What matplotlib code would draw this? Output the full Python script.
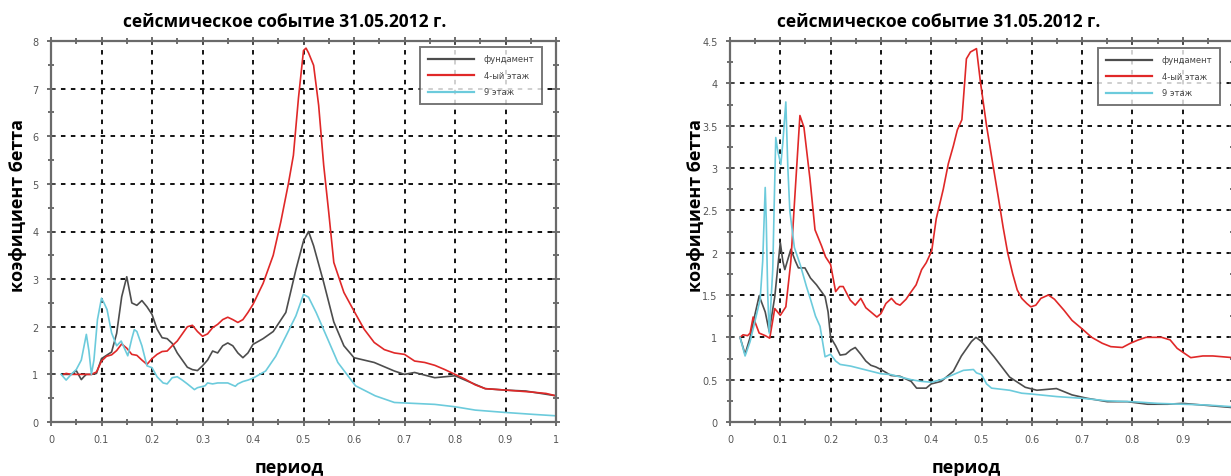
import matplotlib
matplotlib.use('Agg')
import matplotlib.pyplot as plt
import numpy as np

# ---- левый график (x: период, y: коэффициент бетта) ----
L_fund_x = [0.025, 0.03, 0.04, 0.05, 0.06, 0.065, 0.07, 0.08, 0.09, 0.1, 0.11, 0.12, 0.13, 0.14,
            0.15, 0.16, 0.17, 0.18, 0.19, 0.2, 0.21, 0.22, 0.23, 0.24, 0.25, 0.26, 0.27, 0.28,
            0.29, 0.3, 0.31, 0.32, 0.33, 0.34, 0.35, 0.36, 0.37, 0.38, 0.39, 0.4, 0.42, 0.44,
            0.465, 0.485, 0.5, 0.51, 0.52, 0.54, 0.56, 0.58, 0.6, 0.64, 0.68, 0.7, 0.72, 0.76,
            0.8, 0.84, 0.86, 0.9, 0.94, 1.0]
L_fund_y = [1.0, 1.0, 1.0, 1.08, 0.89, 0.95, 1.0, 1.0, 1.02, 1.33, 1.4, 1.47, 1.86, 2.63,
            3.05, 2.5, 2.45, 2.55, 2.42, 2.26, 1.95, 1.77, 1.75, 1.65, 1.45, 1.3, 1.15, 1.1,
            1.08, 1.18, 1.3, 1.49, 1.45, 1.6, 1.66, 1.6, 1.45, 1.35, 1.45, 1.63, 1.75, 1.9,
            2.3, 3.2, 3.8, 4.0, 3.7, 2.93, 2.1, 1.6, 1.35, 1.25, 1.07, 1.0, 1.04, 0.93,
            0.97, 0.79, 0.7, 0.67, 0.65, 0.55]

L_fl4_x = [0.025, 0.03, 0.04, 0.05, 0.06, 0.07, 0.08, 0.09, 0.1, 0.11, 0.12, 0.13, 0.14, 0.15,
           0.16, 0.17, 0.18, 0.19, 0.2, 0.21, 0.22, 0.23, 0.24, 0.25, 0.26, 0.27, 0.28, 0.29,
           0.3, 0.31, 0.32, 0.33, 0.34, 0.35, 0.36, 0.37, 0.38, 0.39, 0.4, 0.42, 0.44, 0.455,
           0.47, 0.48, 0.49, 0.5, 0.505, 0.51, 0.52, 0.53, 0.54, 0.55, 0.56, 0.58, 0.6, 0.62,
           0.64, 0.66, 0.68, 0.7, 0.72, 0.74, 0.76, 0.78, 0.8, 0.82, 0.84, 0.86, 0.9, 0.95,
           0.98, 1.0]
L_fl4_y = [1.0, 1.02, 1.0, 1.0, 1.0, 1.0, 1.0, 1.05, 1.28, 1.38, 1.41, 1.5, 1.64, 1.55,
           1.42, 1.4, 1.3, 1.21, 1.33, 1.42, 1.48, 1.49, 1.6, 1.7, 1.85, 2.0, 2.03, 1.9,
           1.8, 1.85, 1.98, 2.05, 2.15, 2.2, 2.15, 2.09, 2.15, 2.3, 2.47, 2.91, 3.5, 4.2,
           5.0, 5.6, 6.8, 7.8, 7.85, 7.75, 7.49, 6.65, 5.39, 4.4, 3.35, 2.72, 2.33, 1.95,
           1.67, 1.52, 1.45, 1.42, 1.28, 1.25, 1.19, 1.1, 1.0, 0.9, 0.78, 0.7, 0.67, 0.63,
           0.6, 0.55]

L_fl9_x = [0.02, 0.03, 0.04, 0.05, 0.06, 0.07, 0.075, 0.08, 0.085, 0.092, 0.1, 0.105, 0.111,
           0.12, 0.13, 0.139, 0.152, 0.16, 0.165, 0.17, 0.18, 0.19, 0.2, 0.21, 0.222, 0.23,
           0.24, 0.25, 0.26, 0.27, 0.284, 0.29, 0.305, 0.31, 0.32, 0.33, 0.342, 0.35, 0.365,
           0.37, 0.38, 0.39, 0.4, 0.425, 0.445, 0.465, 0.485, 0.5, 0.51, 0.525, 0.548, 0.568,
           0.588, 0.603, 0.642, 0.68, 0.72, 0.76, 0.8, 0.84, 0.9, 0.955, 1.0]
L_fl9_y = [1.0, 0.88, 1.0, 1.1, 1.3, 1.84, 1.5, 1.0, 1.3, 2.15, 2.6, 2.5, 2.36,
           1.87, 1.6, 1.7, 1.39, 1.75, 1.94, 1.9, 1.6, 1.18, 1.14, 0.95, 0.82, 0.8,
           0.93, 0.95, 0.88, 0.8, 0.68, 0.72, 0.76, 0.82, 0.8, 0.82, 0.82, 0.82, 0.75,
           0.8, 0.85, 0.88, 0.92, 1.07, 1.38, 1.8, 2.23, 2.68, 2.62, 2.3, 1.74, 1.25,
           0.97, 0.76, 0.55, 0.41, 0.39, 0.37, 0.32, 0.25, 0.2, 0.16, 0.13]

# ---- правый график ----
R_fund_x = [0.02, 0.03, 0.04, 0.05, 0.058, 0.07, 0.078, 0.089, 0.1, 0.105, 0.109, 0.121, 0.13,
            0.136, 0.149, 0.16, 0.172, 0.189, 0.195, 0.2, 0.21, 0.219, 0.23, 0.24, 0.249, 0.26,
            0.27, 0.28, 0.29, 0.3, 0.32, 0.338, 0.36, 0.371, 0.39, 0.4, 0.42, 0.444, 0.46,
            0.48, 0.489, 0.5, 0.525, 0.556, 0.587, 0.61, 0.649, 0.68, 0.71, 0.75, 0.79, 0.83,
            0.87, 0.9, 0.94, 1.0]
R_fund_y = [1.0, 0.8, 1.0, 1.28, 1.49, 1.3, 1.07, 1.48, 2.12, 1.9, 1.8, 2.04, 1.9,
            1.82, 1.82, 1.7, 1.62, 1.48, 1.3, 1.0, 0.9, 0.79, 0.8, 0.85, 0.88, 0.8,
            0.72, 0.67, 0.65, 0.62, 0.55, 0.54, 0.48, 0.4, 0.4, 0.45, 0.48, 0.6, 0.78,
            0.95, 1.0, 0.95, 0.77, 0.53, 0.41, 0.375, 0.395, 0.32, 0.28, 0.24, 0.24, 0.21,
            0.21, 0.22, 0.2, 0.17]

R_fl4_x = [0.02, 0.026, 0.035, 0.04, 0.046, 0.058, 0.07, 0.079, 0.089, 0.1, 0.111, 0.121, 0.129,
           0.139, 0.147, 0.159, 0.169, 0.182, 0.19, 0.2, 0.21, 0.218, 0.225, 0.239, 0.249, 0.26,
           0.27, 0.282, 0.292, 0.3, 0.31, 0.321, 0.33, 0.338, 0.35, 0.358, 0.37, 0.381, 0.39,
           0.401, 0.41, 0.424, 0.434, 0.444, 0.452, 0.461, 0.47, 0.478, 0.49, 0.498, 0.51,
           0.521, 0.533, 0.543, 0.552, 0.562, 0.571, 0.58, 0.59, 0.598, 0.608, 0.618, 0.633,
           0.645, 0.664, 0.68, 0.7, 0.719, 0.74, 0.757, 0.78, 0.796, 0.812, 0.827, 0.858, 0.875,
           0.889, 0.916, 0.94, 0.96, 0.98, 1.0]
R_fl4_y = [1.0, 1.03, 1.02, 1.05, 1.24, 1.05, 1.02, 0.99, 1.34, 1.26, 1.36, 1.9, 2.67,
           3.62, 3.48, 2.87, 2.27, 2.08, 1.95, 1.86, 1.54, 1.6, 1.6, 1.44, 1.38, 1.46,
           1.35, 1.29, 1.24, 1.28, 1.4, 1.46, 1.4, 1.38, 1.45, 1.52, 1.62, 1.8, 1.88,
           2.02, 2.4, 2.75, 3.05, 3.26, 3.45, 3.57, 4.29, 4.37, 4.41, 4.01, 3.5,
           3.1, 2.67, 2.3, 2.0, 1.75, 1.56, 1.46, 1.4, 1.36, 1.38, 1.46, 1.5,
           1.45, 1.32, 1.2, 1.1, 1.0, 0.93, 0.89, 0.88, 0.93, 0.97, 1.0, 1.0, 0.97,
           0.87, 0.76, 0.78, 0.78, 0.77, 0.76]

R_fl9_x = [0.02, 0.03, 0.04, 0.05, 0.06, 0.065, 0.07, 0.072, 0.075, 0.078, 0.085, 0.088, 0.091,
           0.095, 0.101, 0.105, 0.111, 0.115, 0.119, 0.128, 0.14, 0.152, 0.16, 0.17, 0.179,
           0.189, 0.2, 0.21, 0.219, 0.24, 0.26, 0.28, 0.3, 0.32, 0.34, 0.36, 0.38, 0.4, 0.42,
           0.44, 0.464, 0.484, 0.49, 0.5, 0.51, 0.52, 0.556, 0.58, 0.6, 0.65, 0.7, 0.75, 0.8,
           0.85, 0.9, 0.95, 1.0]
R_fl9_y = [1.0, 0.78, 0.95, 1.2, 1.45, 1.9, 2.77, 2.4, 1.5, 1.05, 1.8, 2.6, 3.36,
           3.2, 3.04, 3.3, 3.78, 3.0, 2.49, 2.06, 1.85, 1.6, 1.45, 1.25, 1.13,
           0.77, 0.8, 0.72, 0.68, 0.66, 0.63, 0.6, 0.57, 0.56, 0.53, 0.5, 0.48, 0.47, 0.5,
           0.55, 0.61, 0.62, 0.58, 0.56, 0.45, 0.4, 0.375, 0.34, 0.33, 0.3, 0.28, 0.25, 0.24,
           0.22, 0.21, 0.2, 0.18]

labels = ['фундамент', '4-ый этаж', '9 этаж']
colors = ['#4d4d4d', '#e02828', '#6ccbdc']
title = 'сейсмическое событие 31.05.2012 г.'
L_xticklabels = ['0', '0.1', '0.2', '0.3', '0.4', '0.5', '0.6', '0.7', '0.8', '0.9', '1']
R_xticklabels = ['0', '0.1', '0.2', '0.3', '0.4', '0.5', '0.6', '0.7', '0.8', '0.9', '']

fig = plt.figure(figsize=(12.31, 4.77), dpi=100)

panels = [
    dict(pos=[51/1231, 1-423/477, 505/1231, 381/477], ymax=8, yticks=np.arange(0, 9, 1),
         yminor=np.arange(0.5, 8, 1), data=[(L_fund_x, L_fund_y), (L_fl4_x, L_fl4_y), (L_fl9_x, L_fl9_y)],
         xtl=L_xticklabels, title_x=285, xlab_x=289, ylab_x=18, leg=(413, 45, 136, 63)),
    dict(pos=[730/1231, 1-423/477, 503/1231, 381/477], ymax=4.5, yticks=np.arange(0, 4.6, 0.5),
         yminor=np.arange(0.25, 4.5, 0.5), data=[(R_fund_x, R_fund_y), (R_fl4_x, R_fl4_y), (R_fl9_x, R_fl9_y)],
         xtl=R_xticklabels, title_x=939, xlab_x=966, ylab_x=696, leg=(1090, 47, 138, 61)),
]

for p in panels:
    ax = fig.add_axes(p['pos'])
    for (xx, yy), c, lab in zip(p['data'], colors, labels):
        ax.plot(xx, yy, color=c, lw=1.2, label=lab)
    ax.set_xlim(0, 1)
    ax.set_ylim(0, p['ymax'])
    ax.set_xticks(np.arange(0, 1.01, 0.1))
    ax.set_xticklabels(p['xtl'])
    ax.set_xticks(np.arange(0.05, 1, 0.1), minor=True)
    ax.set_yticks(p['yticks'])
    ax.set_yticklabels([('%g' % v) for v in p['yticks']])
    ax.set_yticks(p['yminor'], minor=True)
    ax.grid(True, which='major', color='black', linestyle=(0, (2.5, 3)), lw=1.3)
    for s in ax.spines.values():
        s.set_color('#6a6a6a')
        s.set_linewidth(1.6)
    ax.tick_params(which='major', direction='inout', length=6, width=1.2, color='#555555',
                   labelsize=7, labelcolor='#555555', top=True, right=True, pad=6)
    ax.tick_params(which='minor', direction='inout', length=4, width=1.2, color='#555555',
                   top=True, right=True)
    lx, ly, lw_, lh = p['leg']
    bb = ((lx) / 1231, 1 - (ly + lh) / 477, lw_ / 1231, lh / 477)
    leg = ax.legend(loc='center', bbox_to_anchor=bb, bbox_transform=fig.transFigure,
                    fontsize=6, frameon=True, fancybox=False, handlelength=5.5,
                    borderpad=0.9, labelspacing=0.9, handletextpad=1.2)
    leg.get_frame().set_edgecolor('#555555')
    leg.get_frame().set_linewidth(1.4)
    for ln in leg.get_lines():
        ln.set_linewidth(1.6)
    for t in leg.get_texts():
        t.set_color('#444444')
    fig.text(p['title_x'] / 1231, 1 - 22 / 477, title, ha='center', va='center',
             fontsize=12.5, fontweight='bold', family='Open Sans')
    fig.text(p['xlab_x'] / 1231, 1 - 468 / 477, 'период', ha='center', va='center',
             fontsize=13, fontweight='bold', family='Open Sans')
    fig.text(p['ylab_x'] / 1231, 1 - 205 / 477, 'коэфициент бетта', ha='center', va='center',
             rotation=90, fontsize=13, fontweight='bold', family='Open Sans')

fig.savefig('out.png', dpi=100)
